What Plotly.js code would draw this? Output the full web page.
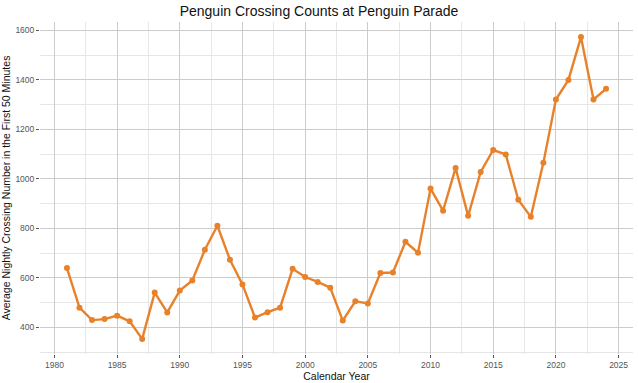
<!DOCTYPE html>
<html>
<head>
<meta charset="utf-8">
<script src="https://cdn.plot.ly/plotly-3.0.1.min.js"></script>
<style>html,body{margin:0;padding:0;background:#fff;}#chart{width:638px;height:383px;}</style>
</head>
<body>
<div id="chart"></div>
<script>
const years = [1981,1982,1983,1984,1985,1986,1987,1988,1989,1990,1991,1992,1993,1994,1995,1996,1997,1998,1999,2000,2001,2002,2003,2004,2005,2006,2007,2008,2009,2010,2011,2012,2013,2014,2015,2016,2017,2018,2019,2020,2021,2022,2023,2024];
const counts = [640,480,430,434,448,425,354,541,461,549,590,714,811,674,574,440,462,480,637,604,584,561,428,506,497,620,622,746,702,961,872,1044,851,1028,1117,1099,916,847,1065,1321,1400,1573,1321,1364];
const xTickVals = [1980,1985,1990,1995,2000,2005,2010,2015,2020,2025];
const yTickVals = [400,600,800,1000,1200,1400,1600];

const trace = {
  x: years, y: counts, type: 'scatter', mode: 'lines+markers',
  line: {color: '#e8822a', width: 2.4},
  marker: {color: '#e8822a', size: 6},
  hoverinfo: 'x+y'
};
const tickFont = {family: 'Liberation Sans, Arial, sans-serif', size: 8.5, color: '#555555'};
const layout = {
  width: 638, height: 383,
  margin: {l: 40, r: 5, t: 22, b: 29},
  paper_bgcolor: '#ffffff', plot_bgcolor: '#ffffff',
  font: {family: 'Liberation Sans, Arial, sans-serif', color: '#222222'},
  showlegend: false,
  title: {text: 'Penguin Crossing Counts at Penguin Parade', x: 0.5, xanchor: 'center', y: 0.985, yanchor: 'top', font: {size: 14, color: '#111111'}},
  xaxis: {
    range: [1978.85, 2026.15], tickvals: xTickVals, ticktext: xTickVals.map(String),
    showgrid: true, gridcolor: '#cccccc', gridwidth: 1,
    minor: {dtick: 2.5, tick0: 1980, showgrid: true, gridcolor: '#e6e6e6', gridwidth: 1},
    ticks: 'outside', ticklen: 3, tickcolor: '#555555', tickwidth: 1,
    zeroline: false, showline: false, tickfont: tickFont,
    title: {text: 'Calendar Year', font: {size: 10.5, color: '#111111'}, standoff: 1}
  },
  yaxis: {
    range: [293, 1634], tickvals: yTickVals, ticktext: yTickVals.map(String),
    showgrid: true, gridcolor: '#cccccc', gridwidth: 1,
    minor: {dtick: 100, tick0: 300, showgrid: true, gridcolor: '#e6e6e6', gridwidth: 1},
    ticks: 'outside', ticklen: 3, tickcolor: '#555555', tickwidth: 1,
    zeroline: false, showline: false, tickfont: tickFont,
    title: {text: 'Average Nightly Crossing Number in the First 50 Minutes', font: {size: 10.5, color: '#111111'}, standoff: 4}
  }
};
Plotly.newPlot('chart', [trace], layout, {displayModeBar: false, staticPlot: true});
</script>
</body>
</html>
